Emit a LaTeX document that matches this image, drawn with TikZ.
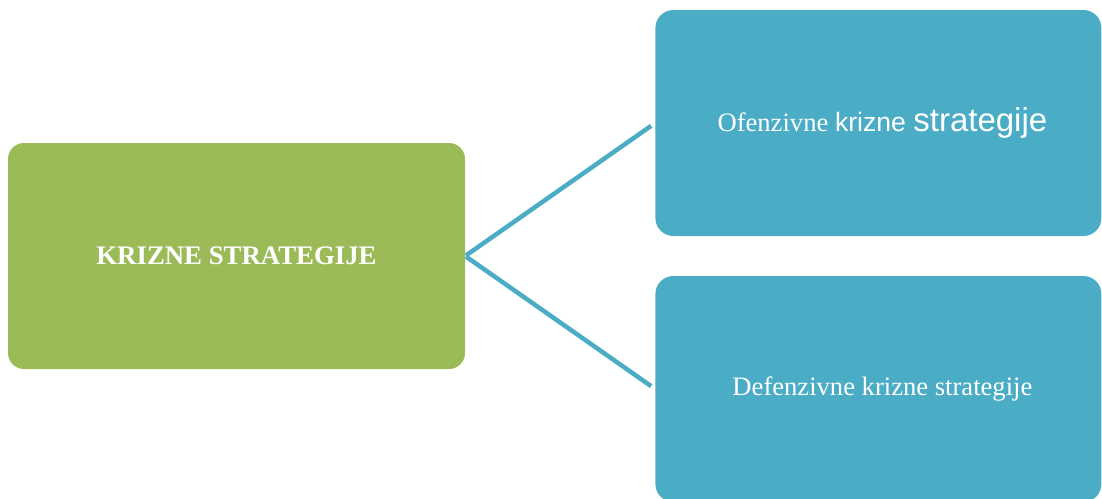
\documentclass[tikz,border=0pt]{standalone}
\usepackage{fontspec}
\setmainfont{Liberation Serif}
\newfontfamily\arial{Liberation Sans}
\usepackage{xcolor}
\usepackage{tikz}
\usetikzlibrary{positioning}
\definecolor{zelena}{HTML}{9BBB59}
\definecolor{plava}{HTML}{4BACC6}
\tikzset{
glavna/.style={rectangle, rounded corners=16pt, fill=zelena, text=white,
  minimum width=457pt, minimum height=226pt, inner sep=0pt,
  font=\fontsize{26.8}{30}\selectfont\bfseries},
vrsta/.style={rectangle, rounded corners=18pt, fill=plava, text=white,
  minimum width=446pt, minimum height=226pt, inner sep=0pt,
  font=\fontsize{26.6}{30}\selectfont},
veza/.style={draw=plava, line width=4.5pt, shorten >=5pt, shorten <=1pt}
}
\newcommand{\veliko}{\fontsize{33}{36}\selectfont}

\begin{document}
\begin{tikzpicture}
\clip (0,0) rectangle (1102pt,-498pt);
\node[glavna] (ks) at (236.5pt,-256pt) {KRIZNE STRATEGIJE};
\node[vrsta,right=190pt of ks,yshift=133pt] (of) {\hspace{8pt}Ofenzivne {\arial krizne {\veliko strategije}}};
\node[vrsta,right=190pt of ks,yshift=-133pt] (def) {\hspace{8pt}Defenzivne krizne strategije};
\draw[veza] (ks.east) -- (of.west);
\draw[veza] (ks.east) -- (def.west);
\end{tikzpicture}
\end{document}
